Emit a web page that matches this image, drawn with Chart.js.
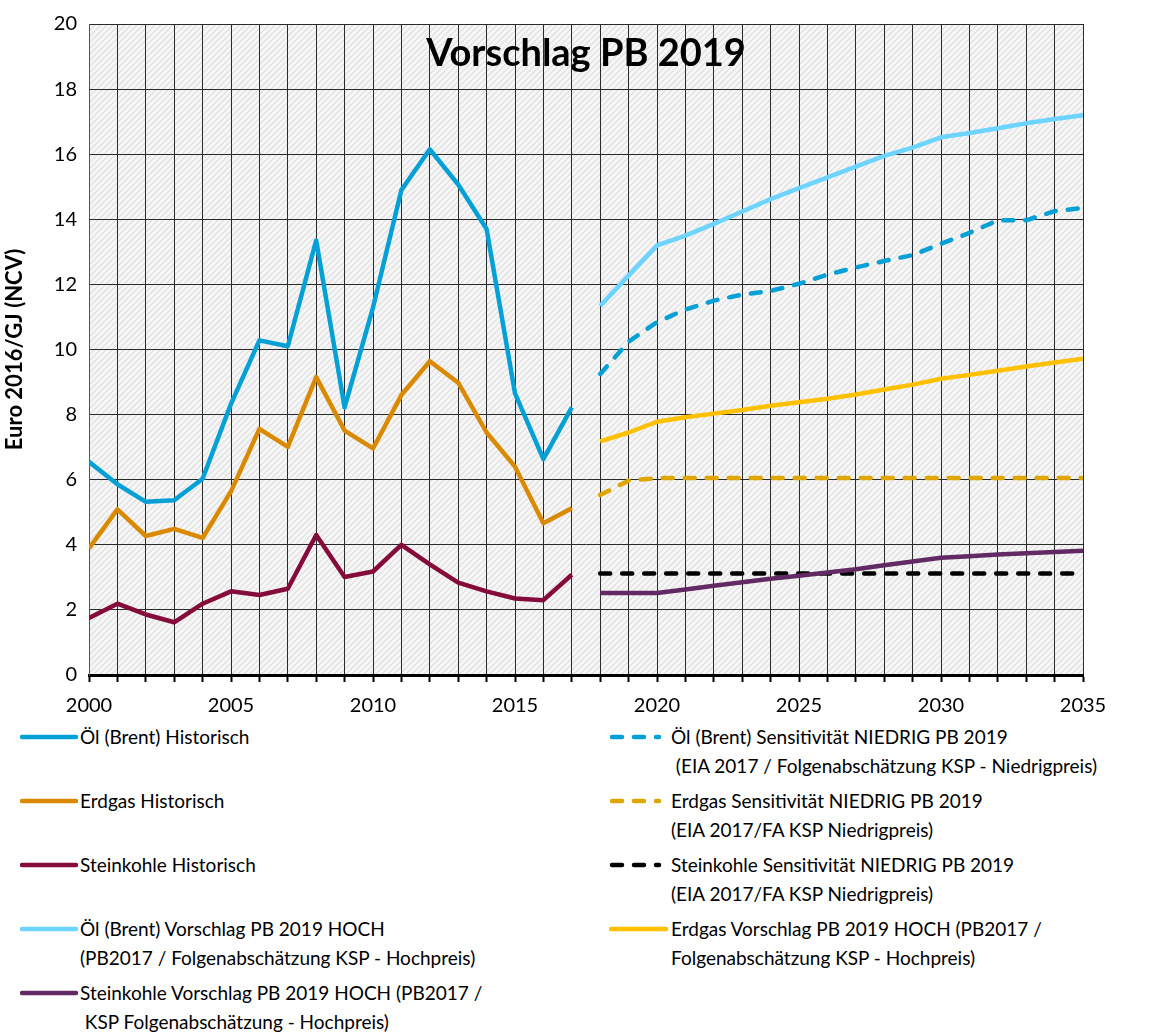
<!DOCTYPE html>
<html>
<head>
<meta charset="utf-8">
<script src="https://cdn.jsdelivr.net/npm/chart.js@4"></script>
<style>
  body { margin: 0; background: #fff; font-family: Lato, "Open Sans", sans-serif; }
  #wrap { position: relative; width: 1176px; height: 1032px; }
  #chartBox { position: absolute; left: 0; top: 0; width: 1176px; height: 720px; }
  #title { position: absolute; left: 89px; width: 994px; top: 28px; text-align: center;
           font-weight: bold; font-size: 38px; line-height: 46px; color: #000; }
  .leg { position: absolute; font-size: 19px; line-height: 29px; color: #000; white-space: pre; }
  .leg svg { position: absolute; top: 10px; }
</style>
</head>
<body>
<div id="wrap">
  <div id="chartBox"><canvas id="chart"></canvas></div>
  <div id="title">Vorschlag PB 2019</div>
  <div id="legend"></div>
</div>
<script>
// Years
const histYears = [2000, 2001, 2002, 2003, 2004, 2005, 2006, 2007, 2008, 2009, 2010, 2011, 2012, 2013, 2014, 2015, 2016, 2017];
const projYears = [2018, 2019, 2020, 2021, 2022, 2023, 2024, 2025, 2026, 2027, 2028, 2029, 2030, 2031, 2032, 2033, 2034, 2035];

// Historical prices (Euro 2016/GJ)
const oilHist  = [6.55, 5.86, 5.32, 5.37, 6.03, 8.33, 10.28, 10.1, 13.35, 8.22, 11.29, 14.9, 16.15, 15.07, 13.7, 8.65, 6.63, 8.22];
const gasHist  = [3.89, 5.09, 4.27, 4.49, 4.21, 5.64, 7.56, 7.01, 9.15, 7.51, 6.96, 8.6, 9.64, 8.98, 7.45, 6.4, 4.66, 5.12];
const coalHist = [1.75, 2.19, 1.86, 1.62, 2.19, 2.57, 2.46, 2.65, 4.3, 3.01, 3.18, 4.0, 3.4, 2.84, 2.57, 2.35, 2.3, 3.08];

// Sensitivity NIEDRIG
const oilLow  = [9.25, 10.24, 10.84, 11.23, 11.5, 11.69, 11.8, 12.02, 12.3, 12.52, 12.72, 12.9, 13.25, 13.58, 13.97, 13.97, 14.25, 14.35];
const gasLow  = [5.53, 5.97, 6.05, 6.05, 6.05, 6.05, 6.05, 6.05, 6.05, 6.05, 6.05, 6.05, 6.05, 6.05, 6.05, 6.05, 6.05, 6.05];
const coalLow = [3.12, 3.12, 3.12, 3.12, 3.12, 3.12, 3.12, 3.12, 3.12, 3.12, 3.12, 3.12, 3.12, 3.12, 3.12, 3.12, 3.12, 3.12];

// Vorschlag PB 2019 HOCH
const oilHigh  = [11.34, 12.27, 13.2, 13.5, 13.86, 14.24, 14.62, 14.96, 15.29, 15.62, 15.95, 16.2, 16.52, 16.65, 16.8, 16.95, 17.08, 17.2];
const gasHigh  = [7.18, 7.45, 7.78, 7.92, 8.03, 8.14, 8.27, 8.38, 8.49, 8.62, 8.77, 8.92, 9.1, 9.22, 9.35, 9.48, 9.6, 9.72];
const coalHigh = [2.52, 2.52, 2.52, 2.63, 2.74, 2.85, 2.96, 3.05, 3.15, 3.25, 3.37, 3.49, 3.6, 3.65, 3.7, 3.74, 3.78, 3.82];

const yTicks = [0, 2, 4, 6, 8, 10, 12, 14, 16, 18, 20];
const xLabelYears = [2000, 2005, 2010, 2015, 2020, 2025, 2030, 2035];

function pts(years, values) {
    return years.map((x, i) => ({ x, y: values[i] }));
}

const DASH = [10, 12];

// legend column / row for each dataset
const datasets = [
    { label: 'Öl (Brent) Historisch', data: pts(histYears, oilHist), borderColor: '#05A0D6', col: 0, row: 0 },
    { label: 'Erdgas Historisch', data: pts(histYears, gasHist), borderColor: '#DA8A00', col: 0, row: 1 },
    { label: 'Steinkohle Historisch', data: pts(histYears, coalHist), borderColor: '#850B3B', col: 0, row: 2 },
    { label: 'Öl (Brent) Vorschlag PB 2019 HOCH\n(PB2017 / Folgenabschätzung KSP - Hochpreis)', data: pts(projYears, oilHigh), borderColor: '#6DD3FF', col: 0, row: 3 },
    { label: 'Steinkohle Vorschlag PB 2019 HOCH (PB2017 /\n KSP Folgenabschätzung - Hochpreis)', data: pts(projYears, coalHigh), borderColor: '#612A62', col: 0, row: 4 },
    { label: 'Öl (Brent) Sensitivität NIEDRIG PB 2019\n (EIA 2017 / Folgenabschätzung KSP - Niedrigpreis)', data: pts(projYears, oilLow), borderColor: '#05A0D6', borderDash: DASH, col: 1, row: 0 },
    { label: 'Erdgas Sensitivität NIEDRIG PB 2019\n(EIA 2017/FA KSP Niedrigpreis)', data: pts(projYears, gasLow), borderColor: '#E0A600', borderDash: DASH, col: 1, row: 1 },
    { label: 'Steinkohle Sensitivität NIEDRIG PB 2019\n(EIA 2017/FA KSP Niedrigpreis)', data: pts(projYears, coalLow), borderColor: '#000000', borderDash: DASH, col: 1, row: 2 },
    { label: 'Erdgas Vorschlag PB 2019 HOCH (PB2017 /\nFolgenabschätzung KSP - Hochpreis)', data: pts(projYears, gasHigh), borderColor: '#FFC000', col: 1, row: 3 }
];

datasets.forEach(ds => {
    ds.borderWidth = 4.5;
    ds.pointRadius = 0;
    ds.fill = false;
    ds.tension = 0;
    ds.borderCapStyle = ds.borderDash ? 'round' : 'butt';
    ds.borderJoinStyle = 'round';
});

// Hatched plot background
function makeHatch() {
    const c = document.createElement('canvas');
    c.width = 6; c.height = 6;
    const g = c.getContext('2d');
    g.fillStyle = '#f6f6f6';
    g.fillRect(0, 0, 6, 6);
    g.strokeStyle = '#dedede';
    g.lineWidth = 1.2;
    g.beginPath();
    g.moveTo(0, 6); g.lineTo(6, 0);
    g.moveTo(-1, 1); g.lineTo(1, -1);
    g.moveTo(5, 7); g.lineTo(7, 5);
    g.stroke();
    return c;
}

const hatchPlugin = {
    id: 'hatch',
    beforeDraw(chart) {
        const { ctx, chartArea: a } = chart;
        ctx.save();
        ctx.fillStyle = ctx.createPattern(makeHatch(), 'repeat');
        ctx.fillRect(a.left, a.top, a.right - a.left, a.bottom - a.top);
        ctx.restore();
    }
};

const chart = new Chart(document.getElementById('chart'), {
    type: 'line',
    data: { datasets },
    options: {
        responsive: true,
        maintainAspectRatio: false,
        animation: false,
        layout: { padding: { top: 22, right: 93, left: 0, bottom: 0 } },
        plugins: {
            legend: { display: false },
            tooltip: { enabled: false }
        },
        scales: {
            x: {
                type: 'linear',
                min: 2000,
                max: 2035,
                afterFit(scale) { scale.height = 45; },
                afterBuildTicks(scale) {
                    scale.ticks = [];
                    for (let y = 2000; y <= 2035; y++) scale.ticks.push({ value: y });
                },
                ticks: {
                    autoSkip: false,
                    maxRotation: 0,
                    padding: 12,
                    color: '#000',
                    font: { family: 'Lato', size: 20 },
                    callback: v => xLabelYears.includes(v) ? String(v) : ''
                },
                grid: { color: '#2a2a2a', lineWidth: 1, tickLength: 7, tickColor: '#000', tickWidth: 2 },
                border: { color: '#000', width: 3 }
            },
            y: {
                min: 0,
                max: 20,
                afterFit(scale) { scale.width = 89; },
                afterBuildTicks(scale) { scale.ticks = yTicks.map(v => ({ value: v })); },
                ticks: {
                    padding: 12,
                    color: '#000',
                    font: { family: 'Lato', size: 20 }
                },
                grid: { color: '#2a2a2a', lineWidth: 1, drawTicks: false },
                border: { color: '#555', width: 1 },
                title: {
                    display: true,
                    text: 'Euro 2016/GJ (NCV)',
                    color: '#000',
                    font: { family: 'Lato', size: 22, weight: 'bold' },
                    padding: { top: 2, bottom: 0 }
                }
            }
        }
    },
    plugins: [hatchPlugin]
});

// HTML legend (two columns, multi-line labels)
const legendEl = document.getElementById('legend');
const colX = [20, 609];
const sampleW = [56, 50];
const textX = [80, 671];
chart.data.datasets.forEach(ds => {
    const top = 722 + ds.row * 64;
    const item = document.createElement('div');
    item.className = 'leg';
    item.style.left = colX[ds.col] + 'px';
    item.style.top = top + 'px';
    item.style.paddingLeft = (textX[ds.col] - colX[ds.col]) + 'px';
    const w = ds.borderDash ? sampleW[1] : (ds.col === 0 ? sampleW[0] : 57);
    const dash = ds.borderDash ? `stroke-dasharray="${ds.borderDash.join(' ')}" stroke-linecap="round"` : 'stroke-linecap="round"';
    const x1 = ds.borderDash ? 3 : 2;
    item.innerHTML = `<svg width="${w + 4}" height="10" style="left:0"><line x1="${x1}" y1="5" x2="${w}" y2="5" stroke="${ds.borderColor}" stroke-width="4.5" ${dash}/></svg>`;
    const span = document.createElement('span');
    span.textContent = ds.label;
    item.appendChild(span);
    legendEl.appendChild(item);
});
</script>
</body>
</html>
